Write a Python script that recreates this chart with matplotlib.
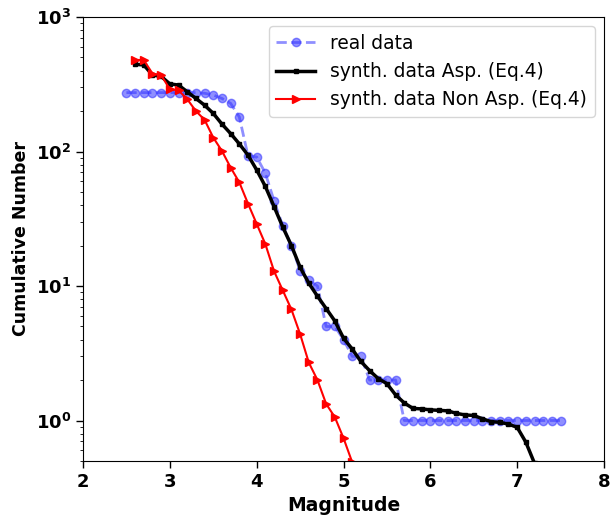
import numpy as np
import matplotlib
matplotlib.use("Agg")
import matplotlib.pyplot as plt
from matplotlib.ticker import FuncFormatter, LogLocator

# Real data
real_mag = [2.5, 2.6, 2.7, 2.8, 2.9, 3.0, 3.1, 3.2, 3.3, 3.4, 3.5, 3.6, 3.7, 3.8, 3.9,
            4.0, 4.1, 4.2, 4.3, 4.4, 4.5, 4.6, 4.7, 4.8, 4.9, 5.0, 5.1, 5.2, 5.3, 5.4,
            5.5, 5.6, 5.7, 5.8, 5.9, 6.0, 6.1, 6.2, 6.3, 6.4, 6.5, 6.6, 6.7, 6.8, 6.9,
            7.0, 7.1, 7.2, 7.3, 7.4, 7.5]
real_n = [274, 274, 274, 274, 274, 274, 274, 274, 274, 271, 263, 248, 228, 181, 93,
          91, 69, 43, 28, 20, 13, 11, 10, 5, 5, 4, 3, 3, 2, 2,
          2, 2, 1, 1, 1, 1, 1, 1, 1, 1, 1, 1, 1, 1, 1,
          1, 1, 1, 1, 1, 1]

# Synthetic data, Asp. (Eq.4)
asp_mag = [2.6, 2.7, 2.8, 2.9, 3.0, 3.1, 3.2, 3.3, 3.4, 3.5, 3.6, 3.7, 3.8, 3.9,
           4.0, 4.1, 4.2, 4.3, 4.4, 4.5, 4.6, 4.7, 4.8, 4.9, 5.0, 5.1, 5.2, 5.3, 5.4,
           5.5, 5.6, 5.7, 5.8, 5.9, 6.0, 6.1, 6.2, 6.3, 6.4, 6.5, 6.6, 6.7, 6.8, 6.9,
           7.0, 7.1, 7.2]
asp_n = [445, 440, 370, 362, 318, 312, 278, 248, 221, 192, 160, 136, 114, 94,
         73, 55, 39, 27.5, 20, 13.8, 10.5, 8.4, 6.8, 5.5, 4.1, 3.4, 2.75, 2.35, 2.05,
         1.88, 1.55, 1.35, 1.23, 1.22, 1.2, 1.19, 1.18, 1.13, 1.1, 1.09, 1.03, 0.98, 0.97, 0.94,
         0.89, 0.69, 0.48]

# Synthetic data, Non Asp. (Eq.4)
nonasp_mag = [2.6, 2.7, 2.8, 2.9, 3.0, 3.1, 3.2, 3.3, 3.4, 3.5, 3.6, 3.7, 3.8, 3.9,
              4.0, 4.1, 4.2, 4.3, 4.4, 4.5, 4.6, 4.7, 4.8, 4.9, 5.0, 5.1, 5.2]
nonasp_n = [480, 478, 380, 370, 290, 285, 245, 200, 172, 127, 101, 76, 59, 41,
            29, 20.5, 12.9, 9.3, 6.7, 4.4, 2.7, 2.0, 1.33, 1.06, 0.74, 0.49, 0.35]

x_ticks = [2, 3, 4, 5, 6, 7, 8]

fig = plt.figure(figsize=(6.11, 5.19), dpi=100)
ax = fig.add_axes([83/611, 1 - 461/519, (604-83)/611, (461-17)/519])

ax.plot(real_mag, real_n, linestyle='--', marker='o', color='#3333ff', alpha=0.55,
        lw=2, markersize=6, label='real data')
ax.plot(asp_mag, asp_n, linestyle='-', marker='s', color='black', lw=2.5,
        markersize=3.5, label='synth. data Asp. (Eq.4)')
ax.plot(nonasp_mag, nonasp_n, linestyle='-', marker='>', color='red', lw=1.5,
        markersize=6, label='synth. data Non Asp. (Eq.4)')

ax.set_yscale('log')
ax.set_xlim(2, 8)
ax.set_ylim(0.5, 1000)
ax.set_xticks(x_ticks)
ax.set_xticklabels([str(t) for t in x_ticks], fontsize=13, fontweight='bold')
ax.yaxis.set_major_locator(LogLocator(base=10))
ax.yaxis.set_major_formatter(FuncFormatter(lambda v, p: r'$\mathbf{10^{%d}}$' % int(round(np.log10(v)))))
ax.tick_params(axis='y', labelsize=13)
ax.tick_params(axis='both', which='major', length=5, width=1)

ax.set_xlabel('Magnitude', fontsize=13.5, fontweight='bold')
ax.set_ylabel('Cumulative Number', fontsize=12.5, fontweight='bold')

ax.legend(loc='upper right', fontsize=13.4, handlelength=2.1)

fig.savefig('out.png', dpi=100)
